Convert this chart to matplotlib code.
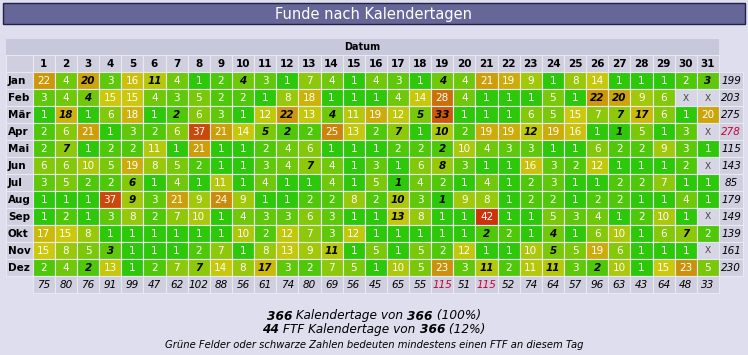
import numpy as np
import matplotlib
matplotlib.use("Agg")
import matplotlib.pyplot as plt
from matplotlib.patches import Rectangle

months = ['Jan', 'Feb', 'Mär', 'Apr', 'Mai', 'Jun', 'Jul', 'Aug', 'Sep', 'Okt', 'Nov', 'Dez']
days = list(range(1, 32))

# finds per calendar day, None = day does not exist
jan = [22, 4, 20, 3, 16, 11, 4, 1, 2, 4, 3, 1, 7, 4, 1, 4, 3, 1, 4, 4, 21, 19, 9, 1, 8, 14, 1, 1, 1, 2, 3]
feb = [3, 4, 4, 15, 15, 4, 3, 5, 2, 2, 1, 8, 18, 1, 1, 1, 4, 14, 28, 4, 1, 1, 1, 5, 1, 22, 20, 9, 6, None, None]
mar = [1, 18, 1, 6, 18, 1, 2, 6, 3, 1, 12, 22, 13, 4, 11, 19, 12, 5, 33, 1, 1, 1, 6, 5, 15, 7, 7, 17, 6, 1, 20]
apr = [2, 6, 21, 1, 3, 2, 6, 37, 21, 14, 5, 2, 2, 25, 13, 2, 7, 1, 10, 2, 19, 19, 12, 19, 16, 1, 1, 5, 1, 3, None]
mai = [2, 7, 1, 2, 2, 11, 1, 21, 1, 1, 2, 4, 6, 1, 1, 1, 2, 2, 2, 10, 4, 3, 3, 1, 1, 6, 2, 2, 9, 3, 1]
jun = [6, 6, 10, 5, 19, 8, 5, 2, 1, 1, 3, 4, 7, 4, 1, 3, 1, 6, 8, 3, 1, 1, 16, 3, 2, 12, 1, 1, 1, 2, None]
jul = [3, 5, 2, 2, 6, 1, 4, 1, 11, 1, 4, 1, 1, 4, 1, 5, 1, 4, 2, 1, 4, 1, 2, 3, 1, 1, 2, 2, 7, 1, 1]
aug = [1, 1, 1, 37, 9, 3, 21, 9, 24, 9, 1, 1, 2, 2, 8, 2, 10, 3, 1, 9, 8, 1, 2, 2, 1, 2, 2, 1, 1, 4, 1]
sep = [1, 2, 1, 3, 8, 2, 7, 10, 1, 4, 3, 3, 6, 3, 1, 1, 13, 8, 1, 1, 42, 1, 1, 5, 3, 4, 1, 2, 10, 1, None]
okt = [17, 15, 8, 1, 1, 1, 1, 1, 1, 10, 2, 12, 7, 3, 12, 1, 1, 1, 1, 1, 2, 2, 1, 4, 1, 6, 10, 1, 6, 7, 2]
nov = [15, 8, 5, 3, 1, 1, 1, 2, 7, 1, 8, 13, 9, 11, 1, 5, 1, 5, 2, 12, 1, 1, 10, 5, 5, 19, 6, 1, 1, 1, None]
dez = [2, 4, 2, 13, 1, 2, 7, 7, 14, 8, 17, 3, 2, 7, 5, 1, 10, 5, 23, 3, 11, 2, 11, 11, 3, 2, 10, 1, 15, 23, 5]
rows = [jan, feb, mar, apr, mai, jun, jul, aug, sep, okt, nov, dez]

# days with at least one FTF (black numbers)
ftf_days = [[3, 6, 10, 19, 31], [3, 26, 27], [2, 7, 12, 14, 18, 19, 27, 28], [11, 12, 17, 19, 23, 27],
            [2, 19], [13, 19], [5, 17], [5, 17, 19], [17], [21, 24, 30], [4, 14, 24], [3, 8, 11, 21, 24, 26]]

month_totals = [199, 203, 275, 278, 115, 143, 85, 179, 149, 139, 161, 230]
day_totals = [75, 80, 76, 91, 99, 47, 62, 102, 88, 56, 61, 74, 80, 69, 56, 45, 65, 55, 115, 51, 115,
              52, 74, 64, 57, 96, 63, 43, 64, 48, 33]

title = 'Funde nach Kalendertagen'
line1 = [('366', True), (' Kalendertage von ', False), ('366', True), (' (100%)', False)]
line2 = [('44', True), (' FTF Kalendertage von ', False), ('366', True), (' (12%)', False)]
line3 = 'Grüne Felder oder schwarze Zahlen bedeuten mindestens einen FTF an diesem Tag'

bg = '#dedeee'
gray = '#cfcfe0'
red = '#cc0033'


def cell_color(v):
    r = np.interp(v, [1, 2, 4, 8, 12, 15], [45, 80, 112, 152, 192, 204])
    g = np.interp(v, [1, 15, 28, 42], [200, 200, 110, 51])
    return (r / 255, g / 255, 10 / 255)


fig = plt.figure(figsize=(7.48, 3.55), dpi=100, facecolor=bg)
ax = fig.add_axes([0, 0, 1, 1])
ax.set_xlim(0, 748)
ax.set_ylim(355, 0)
ax.axis('off')

# title bar
ax.add_patch(Rectangle((3, 3), 742, 21, facecolor='#666699', edgecolor='#222244', lw=1))
ax.text(374, 14, title, color='white', fontsize=10.5, ha='center', va='center')

x0, cw = 32.7, 22.14
y0, rh = 72.3, 16.95
xend = x0 + 31 * cw

# Datum header
ax.add_patch(Rectangle((6, 39), xend - 6, 16.3, facecolor='#c8c8dc', edgecolor='none'))
ax.text((6 + xend) / 2, 47.5, 'Datum', fontsize=7, fontweight='bold', ha='center', va='center')

edge = '#e6eaf0'
# column headers
ax.add_patch(Rectangle((6, 55.3), x0 - 6, 17, facecolor=gray, edgecolor=edge, lw=0.8))
for j, d in enumerate(days):
    ax.add_patch(Rectangle((x0 + j * cw, 55.3), cw, 17, facecolor=gray, edgecolor=edge, lw=0.8))
    ax.text(x0 + (j + 0.5) * cw, 64, str(d), fontsize=7.5, fontweight='bold', ha='center', va='center')

for i, m in enumerate(months):
    y = y0 + i * rh
    ax.add_patch(Rectangle((6, y), x0 - 6, rh, facecolor=gray, edgecolor=edge, lw=0.8))
    ax.text(8, y + rh / 2 + 0.5, m, fontsize=7.5, fontweight='bold', ha='left', va='center')
    for j, v in enumerate(rows[i]):
        x = x0 + j * cw
        cx, cy = x + cw / 2, y + rh / 2 + 0.5
        if v is None:
            ax.add_patch(Rectangle((x, y), cw, rh, facecolor='#d6d6e4', edgecolor=edge, lw=0.8))
            ax.text(cx, cy, 'X', fontsize=6.5, color='#444444', ha='center', va='center')
            continue
        ax.add_patch(Rectangle((x, y), cw, rh, facecolor=cell_color(v), edgecolor=edge, lw=0.8))
        if days[j] in ftf_days[i]:
            ax.text(cx, cy, str(v), fontsize=7.5, color='black', fontweight='bold',
                    fontstyle='italic', ha='center', va='center')
        else:
            ax.text(cx, cy, str(v), fontsize=7.5, color='white', ha='center', va='center')
    ax.add_patch(Rectangle((xend, y), 24, rh, facecolor=gray, edgecolor=edge, lw=0.8))
    ax.text(xend + 12, y + rh / 2 + 0.5, str(month_totals[i]), fontsize=7.5, fontstyle='italic',
            color=red if month_totals[i] == max(month_totals) else 'black', ha='center', va='center')

ty = y0 + 12 * rh
for j, t in enumerate(day_totals):
    ax.add_patch(Rectangle((x0 + j * cw, ty), cw, 17, facecolor=gray, edgecolor=edge, lw=0.8))
    ax.text(x0 + (j + 0.5) * cw, ty + 9, str(t), fontsize=7.5, fontstyle='italic',
            color=red if t == max(day_totals) else 'black', ha='center', va='center')

# summary lines below the table
renderer = fig.canvas.get_renderer()


def rich_line(y, pieces, size):
    texts = []
    x = 0
    for s, bold in pieces:
        t = ax.text(x, y, s, fontsize=size, fontstyle='italic',
                    fontweight='bold' if bold else 'normal', ha='left', va='center')
        w = t.get_window_extent(renderer).width
        texts.append((t, x))
        x += w
    shift = 374 - x / 2
    for t, tx in texts:
        t.set_x(tx + shift)


rich_line(316, line1, 8.7)
rich_line(329.5, line2, 8.7)
ax.text(374, 344.5, line3, fontsize=7.2, fontstyle='italic', ha='center', va='center')

fig.savefig('out.png', dpi=100, facecolor=bg)
